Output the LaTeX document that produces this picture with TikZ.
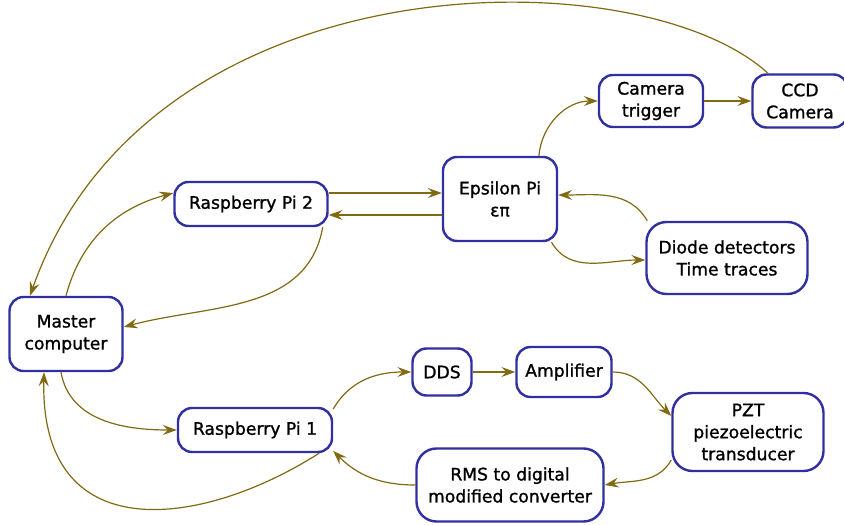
\documentclass[tikz,border=0pt]{standalone}
\usepackage{fontspec}
\setmainfont[FakeBold=1.2]{DejaVu Sans}
\usepackage{xcolor}
\usetikzlibrary{positioning, calc, arrows.meta}

\begin{document}
\begin{tikzpicture}[
  x=0.5pt, y=0.5pt,
  font=\fontsize{8.6pt}{11pt}\selectfont,
  >={Stealth[length=7pt,width=5pt,inset=2.5pt]},
]
\definecolor{boxBlue}{HTML}{3030A0}
\definecolor{wireOlive}{HTML}{806A14}
\tikzset{
  unit/.style={draw=boxBlue, line width=1.2pt, fill=white,
               rounded corners=7pt, align=center, inner sep=2pt},
  wire/.style={wireOlive, line width=0.6pt, ->},
}
% ---------------- canvas ----------------
\useasboundingbox (0,0) rectangle (844,524);

% =====================================================================
% nodes (px positions, y measured from the bottom)
% =====================================================================
\node[unit, minimum width=56.5pt, minimum height=37pt] (master) at (66,190) {Master\\computer};
\node[unit, minimum width=76.5pt, minimum height=22pt] (rpiTwo) at (251,320) {Raspberry Pi 2};
\node[unit, minimum width=57pt, minimum height=42pt] (epsPi) at (500,325) {Epsilon Pi\\επ};
\node[unit, minimum width=52pt, minimum height=26pt] (camTrig) at (651,423) {Camera\\trigger};
\node[unit, minimum width=47.5pt, minimum height=26.5pt] (ccdCam) at (800,423) {CCD\\Camera};
\node[unit, minimum width=80.5pt, minimum height=36pt, rounded corners=10pt] (diodes) at (727,266) {Diode detectors\\Time traces};
\node[unit, minimum width=29.5pt, minimum height=23.5pt] (dds) at (442,152) {DDS};
\node[unit, minimum width=47.5pt, minimum height=25pt] (amp) at (564,152) {Amplifier};
\node[unit, minimum width=75.5pt, minimum height=39pt, rounded corners=10pt] (pzt) at (748,92) {PZT\\piezoelectric\\transducer};
\node[unit, minimum width=93.5pt, minimum height=36.5pt, rounded corners=10pt] (rmsConv) at (510,39) {RMS to digital\\modified converter};
\node[unit, minimum width=77pt, minimum height=22pt] (rpiOne) at (255,94) {Raspberry Pi 1};

% =====================================================================
% upper branch: Raspberry Pi 2 / Epsilon Pi / cameras
% =====================================================================
\draw[wire] ([xshift=-16pt]ccdCam.north)
  .. controls (640,568) and (150,568) .. ([xshift=-18pt]master.north);
\draw[wire] (master.north) to[out=75,in=195] ([yshift=5.5pt]rpiTwo.west);
\draw[wire] ([xshift=-3pt]rpiTwo.south east) to[out=-100,in=15] ([yshift=3.5pt]master.east);
\draw[wire] ([yshift=5.5pt]rpiTwo.east) -- ([yshift=5.5pt]rpiTwo.east -| epsPi.west);
\draw[wire] ([yshift=-5.5pt]rpiTwo.east -| epsPi.west) -- ([yshift=-5.5pt]rpiTwo.east);
\draw[wire] (epsPi.48) to[out=85,in=180] (camTrig.west);
\draw[wire] (camTrig.east) -- (ccdCam.west);
\draw[wire] (diodes.155) to[out=120,in=0] ([yshift=2pt]epsPi.east);
\draw[wire] (epsPi.-40) to[out=-60,in=180] ([yshift=-1pt]diodes.west);

% =====================================================================
% lower branch: Raspberry Pi 1 / DDS / PZT loop
% =====================================================================
\draw[wire] ([xshift=-2.5pt]master.south) to[out=-80,in=180] (rpiOne.west);
\draw[wire] ([xshift=-7pt]rpiOne.south east)
  .. controls (200,-5) and (40,-25) .. ([xshift=-11pt]master.south);
\draw[wire] (rpiOne.15) to[out=60,in=180] (dds.west);
\draw[wire] (dds.east) -- (amp.west);
\draw[wire] (amp.east) to[out=0,in=135] ([yshift=8pt]pzt.west);
\draw[wire] ([yshift=-14pt]pzt.west) to[out=-120,in=10] (rmsConv.east);
\draw[wire] (rmsConv.west) to[out=180,in=-45] (rpiOne.-15);

\end{tikzpicture}
\end{document}
